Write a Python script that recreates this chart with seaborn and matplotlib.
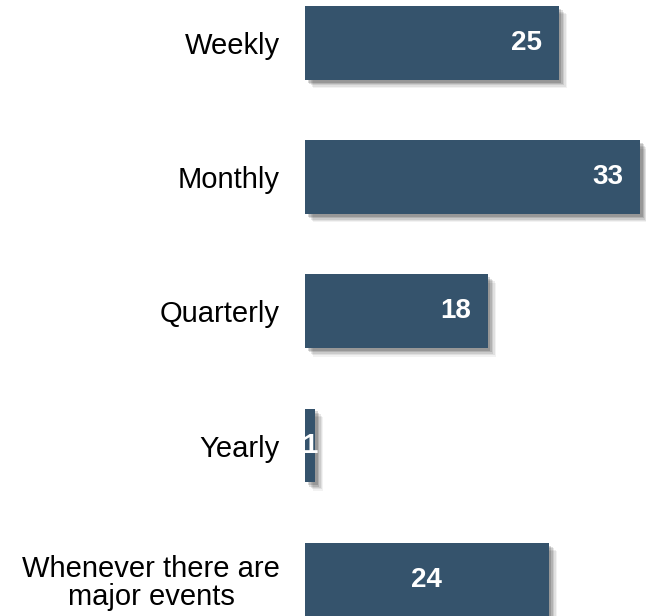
import matplotlib
matplotlib.use("Agg")
import matplotlib.pyplot as plt
import matplotlib.patheffects as pe
import pandas as pd
import seaborn as sns

categories = ["Weekly", "Monthly", "Quarterly", "Yearly", "Whenever there are\nmajor events"]
values = [25, 33, 18, 1, 24]
# where each value label sits on its bar
label_modes = ["end", "end", "end", "center", "center"]

BAR_COLOR = "#35536c"

sns.set_theme(style="white")
plt.rcParams["font.family"] = ["Liberation Sans", "DejaVu Sans"]

fig = plt.figure(figsize=(6.46, 6.16), dpi=100)
ax = fig.add_axes([305 / 646, 0, 341 / 646, 1])

df = pd.DataFrame({"category": categories, "value": values})
sns.barplot(data=df, x="value", y="category", orient="h", color=BAR_COLOR,
            saturation=1, width=0.55, ax=ax, zorder=3)

# soft drop shadow under each bar
shadow = [pe.SimplePatchShadow(offset=(d, -d), shadow_rgbFace="#000000", alpha=a)
          for d, a in [(6, 0.05), (5, 0.07), (4, 0.09), (3, 0.12), (2, 0.15)]]
for patch in ax.patches:
    patch.set_path_effects(shadow + [pe.Normal()])
    patch.set_edgecolor("none")

for i, (v, mode) in enumerate(zip(values, label_modes)):
    if mode == "end":
        x, ha = v - 1.6, "right"
    else:
        x, ha = v / 2, "center"
    ax.text(x, i, str(v), ha=ha, va="center", color="white",
            fontsize=20, fontweight="bold", zorder=5)

ax.set_xlim(0, 33.6)
ax.set_ylim(4.27, -0.32)
ax.set_xlabel("")
ax.set_ylabel("")
ax.set_xticks([])
ax.tick_params(axis="y", length=0, pad=18, labelsize=21, labelcolor="black")
for lbl in ax.get_yticklabels():
    lbl.set_multialignment("center")
    lbl.set_linespacing(1.0)
for s in ax.spines.values():
    s.set_visible(False)

fig.savefig("out.png", dpi=100, facecolor="white")
